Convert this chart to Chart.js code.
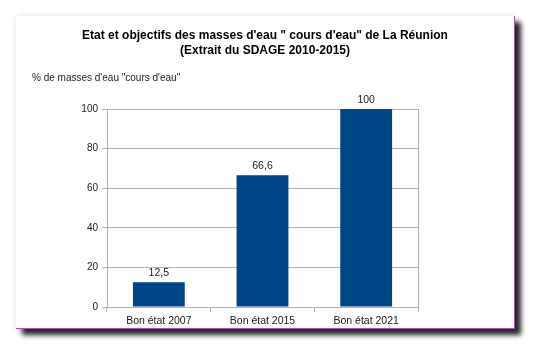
<!DOCTYPE html>
<html>
<head>
  <meta charset="UTF-8">
  <title>Etat et objectifs des masses d'eau cours d'eau</title>
  <script src="https://cdn.jsdelivr.net/npm/chart.js"></script>
  <style>
    html, body { margin: 0; padding: 0; background: #fff; }
    body { width: 533px; height: 347px; overflow: hidden; position: relative; }
    .card {
      position: absolute; left: 16px; top: 16px;
      width: 498px; height: 312px;
      background: #fff;
      border-right: 1px solid #a855b8;
      border-bottom: 1px solid #a855b8;
      box-shadow: 6px 6px 5px rgba(0, 0, 0, 0.85), 0 0 6px rgba(0, 0, 0, 0.12);
    }
    .card canvas { display: block; }
  </style>
</head>
<body>
  <div class="card"><canvas id="masses" width="498" height="312"></canvas></div>
  <script>
    const categories = ['Bon état 2007', 'Bon état 2015', 'Bon état 2021'];
    const pctCoursEau = [12.5, 66.6, 100];
    const yTicks = [0, 20, 40, 60, 80, 100];

    const titleLines = ['Etat et objectifs des masses d\'eau " cours d\'eau" de La Réunion', '(Extrait du SDAGE 2010-2015)'];
    const axisCaption = '% de masses d\'eau "cours d\'eau"';

    const FONT = "'Liberation Sans', Arial, sans-serif";
    const GRID = '#b3b3b3';

    // value written above each bar, decimal comma
    const barValues = {
      id: 'barValues',
      afterDatasetsDraw(chart) {
        const ctx = chart.ctx;
        const meta = chart.getDatasetMeta(0);
        ctx.save();
        ctx.font = '10.5px ' + FONT;
        ctx.fillStyle = '#222';
        ctx.textAlign = 'center';
        ctx.textBaseline = 'bottom';
        meta.data.forEach((bar, i) => {
          const v = chart.data.datasets[0].data[i];
          ctx.fillText(String(v).replace('.', ','), bar.x, bar.y - 4);
        });
        ctx.restore();
      }
    };

    new Chart(document.getElementById('masses'), {
      type: 'bar',
      data: {
        labels: categories,
        datasets: [{
          data: pctCoursEau,
          backgroundColor: '#004586',
          borderWidth: 0,
          barPercentage: 0.5,
          categoryPercentage: 1
        }]
      },
      options: {
        responsive: false,
        animation: false,
        layout: { padding: { left: 16, right: 16, top: 0, bottom: 0 } },
        plugins: {
          legend: { display: false },
          tooltip: { enabled: false },
          title: {
            display: true,
            text: titleLines,
            color: '#000',
            font: { family: FONT, size: 12, weight: 'bold', lineHeight: '15px' },
            padding: { top: 12.5, bottom: 0 }
          },
          subtitle: {
            display: true,
            text: axisCaption,
            align: 'start',
            color: '#222',
            font: { family: FONT, size: 10, lineHeight: '12px' },
            padding: { top: 13.5, bottom: 25 }
          }
        },
        scales: {
          x: {
            grid: { drawOnChartArea: false, offset: true, color: GRID, tickLength: 5 },
            border: { color: GRID },
            ticks: { color: '#222', font: { family: FONT, size: 10.5 }, padding: 3, maxRotation: 0 },
            afterFit(s) { s.height = 21; }
          },
          y: {
            min: 0,
            max: 100,
            afterBuildTicks(s) { s.ticks = yTicks.map(v => ({ value: v })); },
            grid: { color: GRID, tickLength: 5 },
            border: { color: GRID },
            ticks: { color: '#222', font: { family: FONT, size: 10 }, padding: 4 },
            afterFit(s) { s.width = 75; }
          },
          // empty scale on the right: closes the plot frame and keeps the right margin
          frame: {
            type: 'linear',
            position: 'right',
            grid: { display: false },
            ticks: { display: false },
            border: { display: true, color: GRID },
            afterFit(s) { s.width = 80; }
          }
        }
      },
      plugins: [barValues]
    });
  </script>
</body>
</html>
